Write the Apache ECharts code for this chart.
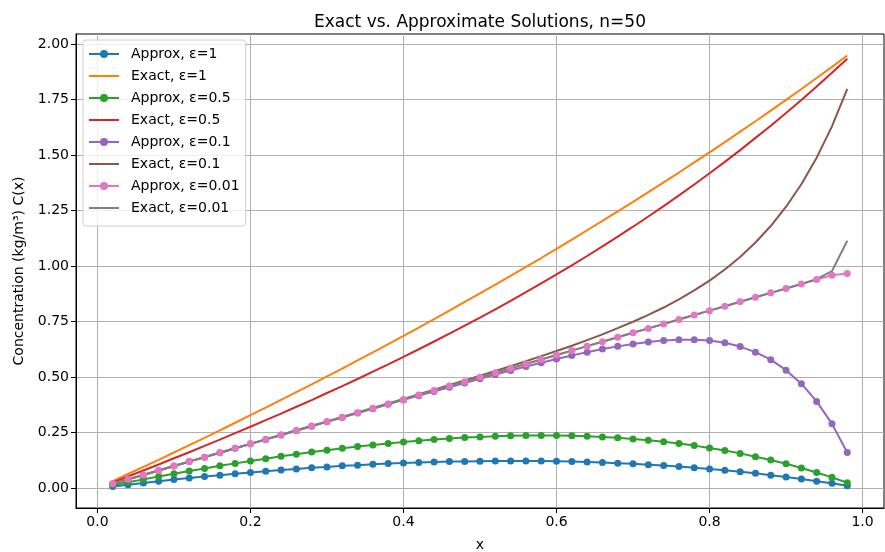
<!DOCTYPE html>
<html>
<head>
<meta charset="utf-8">
<script src="https://cdn.jsdelivr.net/npm/echarts@6/dist/echarts.min.js"></script>
<style>
    html, body { margin: 0; padding: 0; background: #fff; }
    #chart { width: 885px; height: 552px; }
</style>
</head>
<body>
<div id="chart"></div>
<script>
// x grid (n=50, interior points)
var xs = [0.02, 0.04, 0.06, 0.08, 0.10, 0.12, 0.14, 0.16, 0.18, 0.20,
          0.22, 0.24, 0.26, 0.28, 0.30, 0.32, 0.34, 0.36, 0.38, 0.40,
          0.42, 0.44, 0.46, 0.48, 0.50, 0.52, 0.54, 0.56, 0.58, 0.60,
          0.62, 0.64, 0.66, 0.68, 0.70, 0.72, 0.74, 0.76, 0.78, 0.80,
          0.82, 0.84, 0.86, 0.88, 0.90, 0.92, 0.94, 0.96, 0.98];

var approxEps1 = [0.008, 0.016, 0.024, 0.032, 0.039, 0.046, 0.053, 0.059, 0.065, 0.071,
                  0.077, 0.082, 0.087, 0.092, 0.096, 0.101, 0.104, 0.108, 0.111, 0.114,
                  0.116, 0.118, 0.120, 0.121, 0.122, 0.123, 0.123, 0.123, 0.123, 0.122,
                  0.120, 0.118, 0.116, 0.113, 0.110, 0.106, 0.102, 0.098, 0.092, 0.087,
                  0.081, 0.074, 0.067, 0.059, 0.051, 0.042, 0.032, 0.022, 0.011];
var exactEps1 = [0.032, 0.064, 0.096, 0.128, 0.161, 0.194, 0.227, 0.261, 0.295, 0.329,
                 0.363, 0.398, 0.433, 0.468, 0.504, 0.539, 0.576, 0.612, 0.649, 0.686,
                 0.724, 0.762, 0.800, 0.839, 0.878, 0.917, 0.957, 0.997, 1.037, 1.078,
                 1.120, 1.162, 1.204, 1.247, 1.290, 1.334, 1.378, 1.422, 1.468, 1.513,
                 1.559, 1.606, 1.653, 1.701, 1.749, 1.798, 1.848, 1.898, 1.949];
var approxEps05 = [0.014, 0.027, 0.040, 0.053, 0.065, 0.078, 0.089, 0.101, 0.112, 0.123,
                   0.133, 0.144, 0.153, 0.163, 0.171, 0.180, 0.188, 0.195, 0.202, 0.208,
                   0.214, 0.219, 0.224, 0.228, 0.231, 0.234, 0.236, 0.237, 0.237, 0.237,
                   0.236, 0.234, 0.231, 0.227, 0.222, 0.216, 0.209, 0.201, 0.192, 0.181,
                   0.170, 0.157, 0.142, 0.127, 0.110, 0.091, 0.071, 0.049, 0.025];
var exactEps05 = [0.026, 0.053, 0.080, 0.107, 0.135, 0.162, 0.191, 0.219, 0.248, 0.277,
                  0.307, 0.336, 0.367, 0.397, 0.429, 0.460, 0.492, 0.525, 0.558, 0.592,
                  0.626, 0.661, 0.696, 0.732, 0.769, 0.806, 0.844, 0.883, 0.923, 0.963,
                  1.004, 1.046, 1.089, 1.133, 1.178, 1.224, 1.271, 1.319, 1.368, 1.419,
                  1.470, 1.523, 1.578, 1.633, 1.690, 1.749, 1.809, 1.871, 1.935];
var approxEps01 = [0.020, 0.040, 0.060, 0.080, 0.100, 0.120, 0.140, 0.160, 0.180, 0.200,
                   0.220, 0.240, 0.259, 0.279, 0.299, 0.319, 0.339, 0.358, 0.378, 0.398,
                   0.417, 0.436, 0.455, 0.474, 0.493, 0.512, 0.530, 0.548, 0.565, 0.582,
                   0.598, 0.613, 0.627, 0.639, 0.650, 0.659, 0.666, 0.669, 0.669, 0.665,
                   0.655, 0.638, 0.613, 0.579, 0.532, 0.471, 0.391, 0.290, 0.161];
var exactEps01 = [0.020, 0.040, 0.060, 0.080, 0.100, 0.120, 0.140, 0.160, 0.180, 0.200,
                  0.220, 0.240, 0.261, 0.281, 0.301, 0.321, 0.341, 0.362, 0.382, 0.402,
                  0.423, 0.444, 0.465, 0.486, 0.507, 0.528, 0.550, 0.572, 0.595, 0.618,
                  0.642, 0.667, 0.693, 0.721, 0.750, 0.781, 0.814, 0.851, 0.891, 0.935,
                  0.985, 1.042, 1.107, 1.181, 1.268, 1.369, 1.489, 1.630, 1.799];
var approxEps001 = [0.020, 0.040, 0.060, 0.080, 0.100, 0.120, 0.140, 0.160, 0.180, 0.200,
                    0.220, 0.240, 0.260, 0.280, 0.300, 0.320, 0.340, 0.360, 0.380, 0.400,
                    0.420, 0.440, 0.460, 0.480, 0.500, 0.520, 0.540, 0.560, 0.580, 0.600,
                    0.620, 0.640, 0.660, 0.680, 0.700, 0.720, 0.740, 0.760, 0.780, 0.800,
                    0.820, 0.840, 0.860, 0.880, 0.900, 0.920, 0.940, 0.959, 0.967];
var exactEps001 = [0.020, 0.040, 0.060, 0.080, 0.100, 0.120, 0.140, 0.160, 0.180, 0.200,
                   0.220, 0.240, 0.260, 0.280, 0.300, 0.320, 0.340, 0.360, 0.380, 0.400,
                   0.420, 0.440, 0.460, 0.480, 0.500, 0.520, 0.540, 0.560, 0.580, 0.600,
                   0.620, 0.640, 0.660, 0.680, 0.700, 0.720, 0.740, 0.760, 0.780, 0.800,
                   0.820, 0.840, 0.860, 0.880, 0.900, 0.920, 0.942, 0.978, 1.115];

var xTicks = [0, 0.2, 0.4, 0.6, 0.8, 1.0];
var yTicks = [0, 0.25, 0.5, 0.75, 1.0, 1.25, 1.5, 1.75, 2.0];

var font = 'DejaVu Sans';

function pairs(ys) {
    return xs.map(function (x, i) { return [x, ys[i]]; });
}

function approx(name, ys, color) {
    return {
        name: name, type: 'line', data: pairs(ys),
        symbol: 'circle', symbolSize: 7, showSymbol: true,
        lineStyle: { color: color, width: 2 },
        itemStyle: { color: color },
        animation: false
    };
}

function exact(name, ys, color) {
    return {
        name: name, type: 'line', data: pairs(ys),
        symbol: 'none',
        lineStyle: { color: color, width: 2 },
        itemStyle: { color: color },
        animation: false
    };
}

var series = [
    approx('Approx, ε=1', approxEps1, '#1f77b4'),
    exact('Exact, ε=1', exactEps1, '#ff7f0e'),
    approx('Approx, ε=0.5', approxEps05, '#2ca02c'),
    exact('Exact, ε=0.5', exactEps05, '#d62728'),
    approx('Approx, ε=0.1', approxEps01, '#9467bd'),
    exact('Exact, ε=0.1', exactEps01, '#8c564b'),
    approx('Approx, ε=0.01', approxEps001, '#e377c2'),
    exact('Exact, ε=0.01', exactEps001, '#7f7f7f')
];

// exact curves: line only in the legend, hide the dot
var legendData = series.map(function (s) {
    return s.symbol === 'none' ? { name: s.name, itemStyle: { opacity: 0 } } : { name: s.name };
});

var chart = echarts.init(document.getElementById('chart'));
var option = {
    backgroundColor: '#fff',
    animation: false,
    title: {
        text: 'Exact vs. Approximate Solutions, n=50',
        left: 475, top: 9, textAlign: 'center',
        textStyle: { fontFamily: font, fontSize: 17, fontWeight: 'normal', color: '#000' }
    },
    legend: {
        data: legendData,
        orient: 'vertical', left: 83, top: 40,
        padding: [6, 6, 10, 5],
        itemWidth: 30, itemHeight: 10, itemGap: 6,
        backgroundColor: 'rgba(255,255,255,0.8)',
        borderColor: '#d0d0d0', borderWidth: 1, borderRadius: 3,
        textStyle: { fontFamily: font, fontSize: 14, color: '#000', lineHeight: 16, padding: [0, 0, 0, 7] }
    },
    grid: {
        left: 76, right: 1, top: 34, bottom: 44,
        outerBoundsMode: 'none',
        show: true, borderColor: '#000', borderWidth: 1
    },
    xAxis: {
        type: 'value', min: -0.028, max: 1.028,
        name: 'x', nameLocation: 'middle', nameGap: 30,
        nameTextStyle: { fontFamily: font, fontSize: 14, color: '#000' },
        axisLine: { show: true, onZero: false, lineStyle: { color: '#000' } },
        axisTick: { show: true, length: 5, customValues: xTicks, lineStyle: { color: '#000' } },
        axisLabel: {
            customValues: xTicks, fontFamily: font, fontSize: 14, color: '#000', margin: 7,
            formatter: function (v) { return v.toFixed(1); }
        },
        splitLine: { show: true, lineStyle: { color: '#b0b0b0', width: 1 } }
    },
    yAxis: {
        type: 'value', min: -0.089, max: 2.046,
        name: 'Concentration (kg/m³) C(x)', nameLocation: 'middle', nameGap: 50,
        nameTextStyle: { fontFamily: font, fontSize: 14, color: '#000' },
        axisLine: { show: true, onZero: false, lineStyle: { color: '#000' } },
        axisTick: { show: true, length: 5, customValues: yTicks, lineStyle: { color: '#000' } },
        axisLabel: {
            customValues: yTicks, fontFamily: font, fontSize: 14, color: '#000', margin: 7,
            formatter: function (v) { return v.toFixed(2); }
        },
        splitLine: { show: true, lineStyle: { color: '#b0b0b0', width: 1 } }
    },
    series: series
};
chart.setOption(option);
</script>
</body>
</html>
